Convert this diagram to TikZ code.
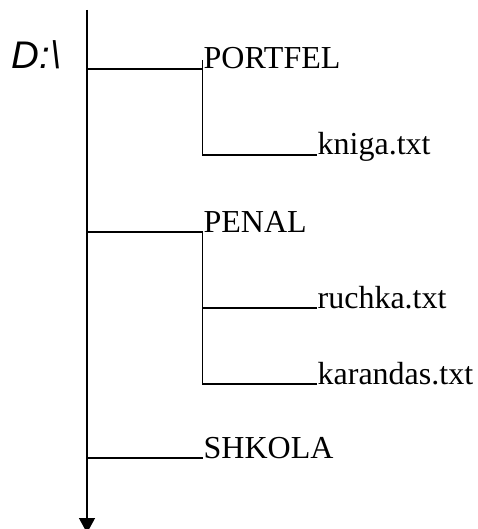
\documentclass[tikz,border=0pt]{standalone}
\usepackage{fontspec}
\setmainfont{Liberation Serif}
\newfontfamily\drivefont{Liberation Sans}
\usetikzlibrary{arrows.meta}
\begin{document}
\begin{tikzpicture}[x=1pt,y=-1pt,
  line width=1.3pt, line cap=butt,
  entry/.style={anchor=base west, inner sep=0pt, font=\fontsize{32}{36}\selectfont},
  link/.style={draw=black}]
\useasboundingbox (0,0) rectangle (477,529);
% drive label
\node[anchor=base west, inner sep=0pt, font=\drivefont\itshape\fontsize{38.5}{42}\selectfont] (drive) at (11,69) {D:\textbackslash};
% trunk of the tree
\coordinate (top) at (87,10);
\coordinate (bottom) at (87,533);
\draw[-{Triangle[width=16pt,length=15pt]}] (top) -- (bottom);
% folder and file names
\node[entry] (portfel) at (203,69) {PORTFEL};
\node[entry] (kniga) at (317,155) {kniga.txt};
\node[entry] (penal) at (203,232) {PENAL};
\node[entry] (ruchka) at (317,308) {ruchka.txt};
\node[entry] (karandas) at (317,384) {karandas.txt};
\node[entry] (shkola) at (203,458) {SHKOLA};
% branch points on the trunk
\coordinate (t1) at (87,69);
\coordinate (t2) at (87,232);
\coordinate (t3) at (87,458);
% elbows of the sub-branches
\coordinate (p0) at (202.5,60);
\coordinate (p1) at (202.5,155);
\coordinate (q0) at (202.5,232);
\coordinate (q1) at (202.5,308);
\coordinate (q2) at (202.5,384);
% first-level branches
\draw (t1) -- (portfel.base west);
\draw (t2) -- (penal.base west);
\draw (t3) -- (shkola.base west);
% second-level branches
\draw (p0) -- (p1) -- (kniga.base west);
\draw (q0) -- (q2) -- (karandas.base west);
\draw (q1) -- (ruchka.base west);
\end{tikzpicture}
\end{document}
